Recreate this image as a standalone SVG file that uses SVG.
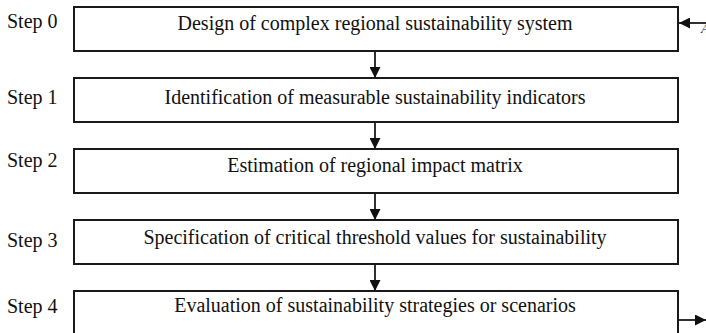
<svg xmlns="http://www.w3.org/2000/svg" width="706" height="333" viewBox="0 0 706 333">
<style>
.box{fill:#fff;stroke:#1a1a1a;stroke-width:2}
.t{font-family:"Liberation Serif",serif;font-size:20px;fill:#111}
.c{text-anchor:middle}
.ln{stroke:#1a1a1a;stroke-width:1.8;fill:none}
</style>
<defs>
<marker id="ah" viewBox="0 0 10 10" refX="10" refY="5" markerWidth="11" markerHeight="11" markerUnits="userSpaceOnUse" orient="auto">
<path d="M0,0 L10,5 L0,10 z" fill="#111"/>
</marker>
</defs>
<rect width="706" height="333" fill="#fff"/>
<g id="step0">
<text class="t" x="7" y="28">Step 0</text>
<rect class="box" x="74" y="7" width="604" height="44"/>
<text class="t c" x="375" y="30">Design of complex regional sustainability system</text>
</g>
<g id="step1">
<text class="t" x="7" y="104">Step 1</text>
<rect class="box" x="74" y="78" width="604" height="44"/>
<text class="t c" x="375" y="104">Identification of measurable sustainability indicators</text>
</g>
<g id="step2">
<text class="t" x="7" y="167">Step 2</text>
<rect class="box" x="74" y="149" width="604" height="44"/>
<text class="t c" x="375" y="172">Estimation of regional impact matrix</text>
</g>
<g id="step3">
<text class="t" x="7" y="247">Step 3</text>
<rect class="box" x="74" y="220" width="604" height="44"/>
<text class="t c" x="375" y="244">Specification of critical threshold values for sustainability</text>
</g>
<g id="step4">
<text class="t" x="7" y="313">Step 4</text>
<rect class="box" x="74" y="291" width="604" height="50"/>
<text class="t c" x="375" y="312">Evaluation of sustainability strategies or scenarios</text>
</g>
<g id="connectors">
<line class="ln" x1="375" y1="51" x2="375" y2="78" marker-end="url(#ah)"/>
<line class="ln" x1="375" y1="122" x2="375" y2="149" marker-end="url(#ah)"/>
<line class="ln" x1="375" y1="193" x2="375" y2="220" marker-end="url(#ah)"/>
<line class="ln" x1="375" y1="264" x2="375" y2="291" marker-end="url(#ah)"/>
<line class="ln" x1="706" y1="23" x2="679" y2="23" marker-end="url(#ah)"/>
<line class="ln" x1="679" y1="320" x2="706" y2="320" marker-end="url(#ah)"/>
</g>
<text class="t" x="701" y="33" style="font-size:13px;font-style:italic">A</text>
</svg>
